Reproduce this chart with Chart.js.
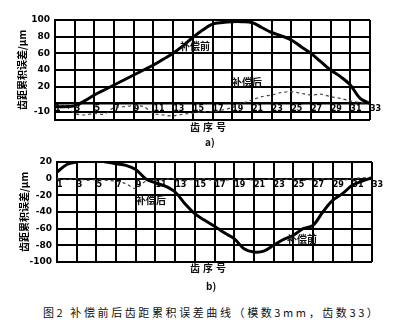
<!DOCTYPE html>
<html><head><meta charset="utf-8">
<script src="https://cdn.jsdelivr.net/npm/chart.js@4/dist/chart.umd.min.js"></script>
<style>
html,body{margin:0;padding:0;background:#fff;}
body{width:403px;height:335px;position:relative;overflow:hidden;font-family:"Noto Sans CJK SC","DejaVu Sans",sans-serif;}
.c{position:absolute;left:0;width:403px;}
.t{position:absolute;font-weight:bold;color:#111;white-space:nowrap;line-height:1;font-family:"Noto Sans CJK SC",sans-serif;}
</style></head><body>
<div class="c" style="top:0;height:150px"><canvas id="a" width="403" height="150"></canvas></div>
<div class="c" style="top:140px;height:140px"><canvas id="b" width="403" height="140"></canvas></div>
<div class="t" style="left:180px;top:41px;font-size:10px;">补偿前</div>
<div class="t" style="left:232px;top:77px;font-size:10px;">补偿后</div>
<div class="t" style="left:190px;top:122px;font-size:10px;letter-spacing:3px;">齿序号</div>
<div class="t" style="left:205px;top:137px;font-size:10px;">a)</div>
<div class="t" style="left:136px;top:195px;font-size:10px;">补偿后</div>
<div class="t" style="left:287px;top:234px;font-size:10px;">补偿前</div>
<div class="t" style="left:190px;top:263px;font-size:10px;letter-spacing:3px;">齿序号</div>
<div class="t" style="left:206px;top:281px;font-size:10px;">b)</div>
<div class="t" style="left:43px;top:307px;font-size:11px;letter-spacing:2.6px;font-weight:normal;">图2 补偿前后齿距累积误差曲线（模数3mm，齿数33）</div>
<script>
const teeth = [1,2,3,4,5,6,7,8,9,10,11,12,13,14,15,16,17,18,19,20,21,22,23,24,25,26,27,28,29,30,31,32,33];
const xTickValues = [1,3,5,7,9,11,13,15,17,19,21,23,25,27,29,31,33];

// chart a)
const beforeA = [-4,-4,-3,3,10,16,22,28,34,40,46,53,60,69,79,88,95,97,98,98,97,91,85,81,76,68,60,50,40,32,22,6,0];
const afterA  = [-3,-3,-12,-14,-12,-13,-5,-4,-3,-4,-12,-14,-15,-13,-12,-10,-10,-8,-5,0,4,8,10,13,14,12,10,11,8,6,3,1,0];
const yTicksA = [100,80,60,40,20,0,-10,-20];
const yLabelsA = [100,80,60,40,20,-10];

// chart b)
const beforeB = [8,17,20,22,22,20,18,16,11,0,-5,-9,-16,-30,-42,-50,-57,-65,-72,-84,-88,-87,-80,-73,-68,-60,-56,-40,-26,-18,-8,-3,1];
const afterB  = [0,-1,0,-2,-1,-2,-3,-6,-12,-3,-2,-1,0,-2,-1,0,-3,-2,-1,0,-2,-1,0,-1,0,-2,-1,0,-1,-2,0,1,2];
const yTicksB = [20,0,-20,-40,-60,-80,-100];
const yLabelsB = [20,0,-20,-40,-60,-80,-100];

const yTitle = '齿距累积误差/μm';

function makeChart(id, before, after, yTicks, yLabels, pad) {
  const pts = arr => teeth.map((t,i)=>({x:t, y:arr[i]}));
  return new Chart(document.getElementById(id), {
    type:'line',
    data:{datasets:[
      {label:'补偿前', data:pts(before), borderColor:'#000', borderWidth:3, pointRadius:0, tension:0.35, fill:false},
      {label:'补偿后', data:pts(after), borderColor:'#444', borderWidth:1.2, borderDash:[3,3], pointRadius:0, tension:0.3, fill:false}
    ]},
    options:{
      responsive:false, animation:false,
      layout:{padding:pad},
      plugins:{legend:{display:false}, tooltip:{enabled:false}},
      scales:{
        x:{type:'linear', min:teeth[0], max:teeth[teeth.length-1], position:{y:0},
           afterBuildTicks:s=>{s.ticks = xTickValues.map(v=>({value:v}));},
           grid:{color:'#000', lineWidth:2, drawTicks:false},
           border:{color:'#000', width:1.5},
           ticks:{font:{size:8, weight:'bold', family:'DejaVu Sans'}, color:'#000', padding:1, align:'start', maxRotation:0, autoSkip:false}},
        y:{min:Math.min(...yTicks), max:Math.max(...yTicks),
           afterBuildTicks:s=>{s.ticks = yTicks.map(v=>({value:v}));},
           afterFit:s=>{s.width = 45;},
           grid:{color:'#000', lineWidth:2, drawTicks:false},
           border:{color:'#000', width:2},
           ticks:{callback:v=> yLabels.includes(v) ? String(v) : '', font:{size:9, weight:'bold', family:'DejaVu Sans'}, color:'#000', padding:5, autoSkip:false},
           title:{display:true, text:yTitle, color:'#000', font:{size:10, weight:'bold', family:'Noto Sans CJK SC'}, padding:{top:6,bottom:0}}}
      }
    }
  });
}
makeChart('a', beforeA, afterA, yTicksA, yLabelsA, {left:10, right:33, top:20, bottom:30});
makeChart('b', beforeB, afterB, yTicksB, yLabelsB, {left:12, right:31, top:22, bottom:18});
</script>
</body></html>
